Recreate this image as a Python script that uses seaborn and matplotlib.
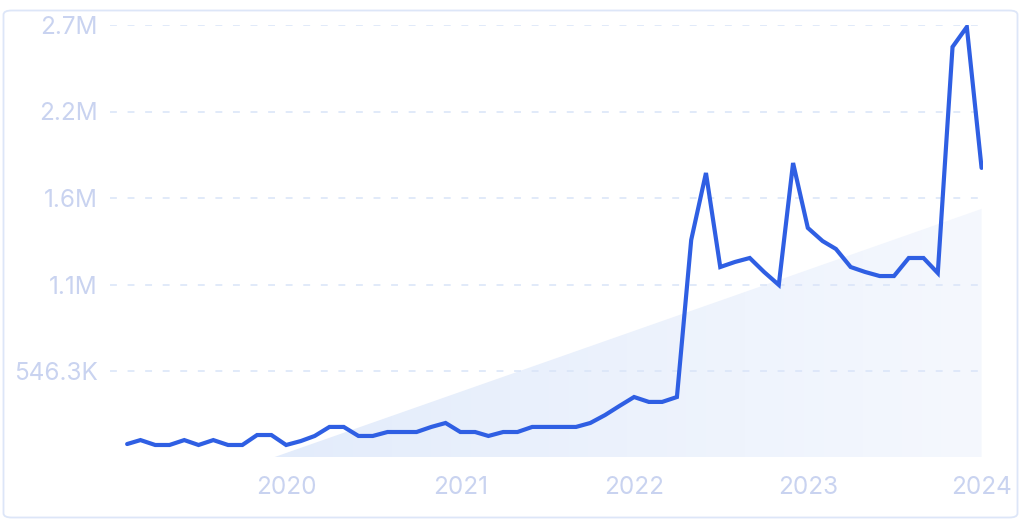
import numpy as np
import pandas as pd
import matplotlib
matplotlib.use("Agg")
import matplotlib.pyplot as plt
import matplotlib.dates as mdates
from matplotlib.patches import FancyBboxPatch, Polygon
from matplotlib.colors import LinearSegmentedColormap
import seaborn as sns

# ---------------- data ----------------
start_month = "2019-02-01"
values = [
    85e3, 110e3, 79e3, 79e3, 110e3, 79e3, 110e3, 79e3, 79e3, 142e3, 142e3,          # 2019 Feb-Dec
    79e3, 104e3, 136e3, 193e3, 193e3, 136e3, 136e3, 161e3, 161e3, 161e3, 193e3, 218e3,  # 2020
    161e3, 161e3, 136e3, 161e3, 161e3, 193e3, 193e3, 193e3, 193e3, 218e3, 268e3, 325e3,  # 2021
    382e3, 351e3, 351e3, 382e3, 1.374e6, 1.797e6, 1.203e6, 1.235e6, 1.26e6, 1.172e6, 1.09e6, 1.86e6,  # 2022
    1.45e6, 1.367e6, 1.317e6, 1.203e6, 1.172e6, 1.146e6, 1.146e6, 1.26e6, 1.26e6, 1.165e6, 2.593e6, 2.719e6,  # 2023
    1.829e6,  # 2024 Jan
]
# trend band (start and end of the shaded area)
trend_dates = ["2019-12-05", "2024-01-01"]
trend_values = [0.0, 1.57e6]

ytick_values = [546.3e3, 1092.6e3, 1638.9e3, 2185.2e3, 2731.5e3]
ytick_labels = ["546.3K", "1.1M", "1.6M", "2.2M", "2.7M"]
xtick_years = ["2020", "2021", "2022", "2023", "2024"]

dates = pd.date_range(start_month, periods=len(values), freq="MS")
df = pd.DataFrame({"date": dates, "value": values})

# ---------------- style ----------------
sns.set_theme(style="white")
plt.rcParams["font.family"] = ["Inter", "DejaVu Sans"]

LINE = "#2f5fe3"
LABEL = "#c9d3f0"
GRID = "#d9e4f8"

fig = plt.figure(figsize=(10.24, 5.23), dpi=100)
W, H = 1024, 523
ax = fig.add_axes([110 / W, (H - 457.5) / H, (983 - 110) / W, (457.5 - 25) / H])

# outer rounded frame
frame = FancyBboxPatch((3.5 / W, (H - 517.5) / H), 1014 / W, 507 / H,
                       boxstyle="round,pad=0,rounding_size=0.008",
                       transform=fig.transFigure, facecolor="none",
                       edgecolor="#dde6f8", linewidth=1.3, zorder=0)
fig.patches.append(frame)

xmin = pd.Timestamp("2018-12-27")
xmax = pd.Timestamp("2024-01-04")
ax.set_xlim(xmin, xmax)
ax.set_ylim(0, ytick_values[-1])

# gradient-filled trend area
td = mdates.date2num(pd.to_datetime(trend_dates))
poly = Polygon([(td[0], trend_values[0]), (td[1], trend_values[1]), (td[1], 0)],
               closed=True, facecolor="none", edgecolor="none")
ax.add_patch(poly)
cmap = LinearSegmentedColormap.from_list("g", ["#e3ecfb", "#f5f8fe"])
grad = np.linspace(0, 1, 256).reshape(1, -1)
im = ax.imshow(grad, cmap=cmap, aspect="auto",
               extent=[td[0], td[1], 0, trend_values[1]], zorder=1,
               interpolation="bicubic")
im.set_clip_path(poly)

# grid lines
for yv in ytick_values:
    ax.axhline(yv, color=GRID, linewidth=1.1, dashes=(4.5, 7), zorder=2)

sns.lineplot(data=df, x="date", y="value", ax=ax, color=LINE, linewidth=3.0,
             zorder=5, solid_joinstyle="miter")

ax.set_xlim(xmin, xmax)
ax.set_ylim(0, ytick_values[-1])

ax.set_yticks(ytick_values)
ax.set_yticklabels(ytick_labels)
ax.set_xticks(pd.to_datetime([f"{y}-01-01" for y in xtick_years]))
ax.set_xticklabels(xtick_years)
ax.tick_params(axis="both", length=0, labelsize=17.5, labelcolor=LABEL)
ax.tick_params(axis="y", pad=9)
ax.tick_params(axis="x", pad=13)
ax.set_xlabel("")
ax.set_ylabel("")
for s in ax.spines.values():
    s.set_visible(False)
ax.set_facecolor("none")
ax.grid(False)

fig.savefig("out.png", dpi=100, facecolor="white")
